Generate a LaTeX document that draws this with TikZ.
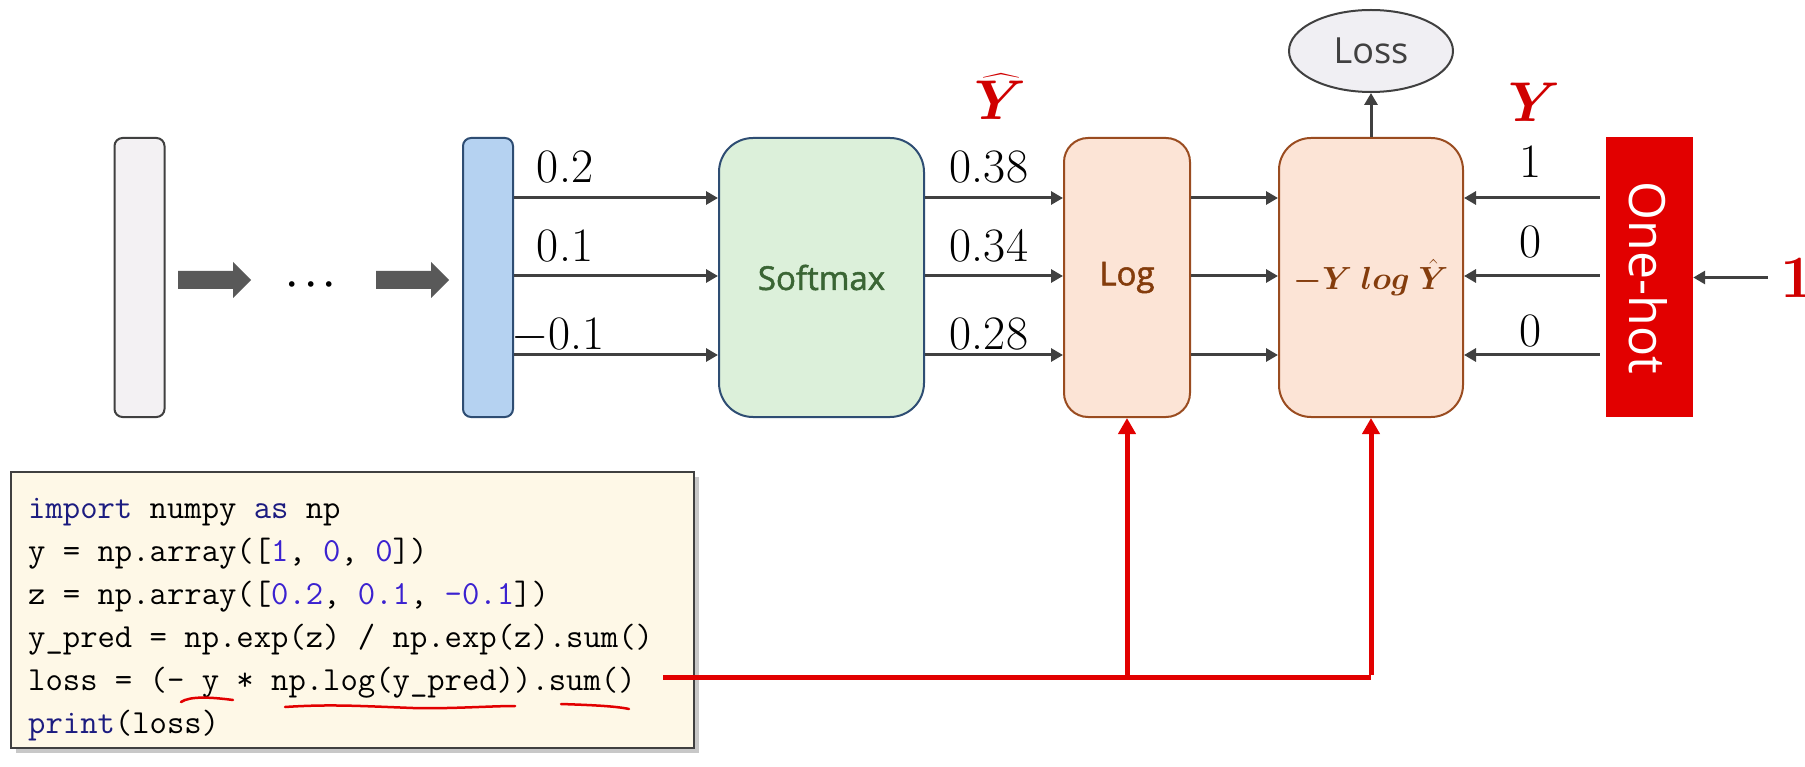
\RequirePackage{fix-cm}
\documentclass[tikz,border=0pt]{standalone}
\usepackage{exscale}
\usepackage{fontspec}
\usepackage{bm}
\usetikzlibrary{shapes.geometric,arrows.meta,shadows}
\newfontfamily\uifont{Open Sans}
\newfontfamily\uifontb{Open Sans}[FakeBold=1.5]
\definecolor{cgray}{HTML}{404040}
\definecolor{fatgray}{HTML}{595959}
\definecolor{barfill}{HTML}{F3F1F3}
\definecolor{bluefill}{HTML}{B5D2F1}
\definecolor{blueline}{HTML}{2E4D73}
\definecolor{softfill}{HTML}{DCF0DA}
\definecolor{softtext}{HTML}{3A6534}
\definecolor{peach}{HTML}{FCE4D6}
\definecolor{brownline}{HTML}{9A4C20}
\definecolor{browntext}{HTML}{843C0C}
\definecolor{lossfill}{HTML}{F0EFF3}
\definecolor{hotred}{HTML}{E20000}
\definecolor{redlbl}{HTML}{D00000}
\definecolor{codefill}{HTML}{FEF8E7}
\definecolor{kwcol}{HTML}{1C1C80}
\definecolor{numcol}{HTML}{3B22D0}
\newcommand\codekw[1]{\textcolor{kwcol}{#1}}
\newcommand\codenum[1]{\textcolor{numcol}{#1}}
\begin{document}
\begin{tikzpicture}[x=1pt,y=-1pt,
  bar/.style={minimum width=50pt, minimum height=279pt, inner sep=0pt, rounded corners=8pt, line width=2pt},
  procbox/.style={minimum height=279pt, inner sep=0pt, line width=2pt},
  conn/.style={draw=cgray, line width=3pt, -{Triangle[width=13pt,length=12pt]}},
  fatarrow/.style={fill=fatgray},
  num/.style={anchor=base, inner sep=0pt, font=\fontsize{48}{48}\selectfont},
  redvar/.style={anchor=base, inner sep=0pt, text=redlbl, font=\fontsize{56}{56}\selectfont},
  codeln/.style={anchor=base west, inner sep=0pt, font=\fontsize{33.7}{40}\ttfamily},
  redline/.style={draw=hotred, line width=5pt},
  redarrow/.style={redline, -{Triangle[width=17pt,length=16pt]}},
  squig/.style={draw=hotred, line width=2.5pt, line cap=round}
]
\useasboundingbox (0,0) rectangle (1805,767);
\fill[white] (0,0) rectangle (1805,767);

% rows
\coordinate (r1) at (0,198);
\coordinate (r2) at (0,276);
\coordinate (r3) at (0,355);

% left bars
\node[bar, draw=cgray, fill=barfill] (gbar) at (139.5,277.5) {};
\node[bar, draw=blueline, fill=bluefill] (bbar) at (488,277.5) {};

% fat arrows and dots
\fill[fatarrow] (178,271) -- (233,271) -- (233,262) -- (251,280) -- (233,298) -- (233,289) -- (178,289) -- cycle;
\fill[fatarrow] (376,271) -- (431,271) -- (431,262) -- (449,280) -- (431,298) -- (431,289) -- (376,289) -- cycle;
\node[anchor=base, inner sep=0pt, font=\fontsize{36}{36}\selectfont] (ellip) at (311,294) {$\bm{\cdots}$};

% processing boxes
\node[procbox, minimum width=205pt, rounded corners=34pt, draw=blueline, fill=softfill,
      text=softtext, font=\uifontb\fontsize{33}{33}\selectfont] (soft) at (821.5,277.5) {Softmax};
\node[procbox, minimum width=126pt, rounded corners=24pt, draw=brownline, fill=peach,
      text=browntext, font=\uifontb\fontsize{33}{33}\selectfont] (logb) at (1127,277.5) {Log};
\node[procbox, minimum width=184pt, rounded corners=32pt, draw=brownline, fill=peach,
      text=browntext, font=\fontsize{32}{32}\selectfont] (ylog) at (1371,277.5) {$\bm{-Y\;log\;\hat{Y}}$};
\node[ellipse, minimum width=164pt, minimum height=82pt, inner sep=0pt, line width=2pt,
      draw=cgray, fill=lossfill, text=cgray, font=\uifont\fontsize{36}{36}\selectfont] (loss) at (1371,51) {Loss};
\node[minimum width=87pt, minimum height=280pt, inner sep=0pt, fill=hotred] (onehot) at (1649.5,277) {};
\node[rotate=-90, inner sep=0pt, text=white, font=\uifont\fontsize{50}{50}\selectfont] (hotlbl) at (1648,278) {One-hot};

% connectors
\foreach \r in {r1,r2,r3} {
  \draw[conn] (bbar.east |- \r) -- (soft.west |- \r);
  \draw[conn] (soft.east |- \r) -- (logb.west |- \r);
  \draw[conn] (logb.east |- \r) -- (ylog.west |- \r);
  \draw[conn, shorten <=6pt] (onehot.west |- \r) -- (ylog.east |- \r);
}
\draw[conn] (ylog.north) -- (loss.south);

% input label
\node[inner sep=0pt, text=redlbl, font=\bfseries\fontsize{60}{60}\selectfont] (inone) at (1797,277.5) {1};
\draw[conn, shorten <=12pt] (inone.west) -- (onehot.east |- inone.west);

% values
\node[num] (z1) at (565,183) {0.2};
\node[num] (z2) at (565,262) {0.1};
\node[num] (z3) at (558,350) {$-$0.1};
\node[num] (p1) at (989,183) {0.38};
\node[num] (p2) at (989,262) {0.34};
\node[num] (p3) at (989,350) {0.28};
\node[num] (t1) at (1530,178) {1};
\node[num] (t2) at (1530,258) {0};
\node[num] (t3) at (1530,347) {0};
\node[redvar] (yhat) at (1001,120) {$\bm{\widehat{Y}}$};
\node[redvar] (ytrue) at (1535,122) {$\bm{Y}$};

% code box
\node[minimum width=683pt, minimum height=276pt, inner sep=0pt, line width=2pt, draw=cgray, fill=codefill,
      drop shadow={shadow xshift=5pt, shadow yshift=-5pt, opacity=.3, fill=black!70}] (code) at (352.5,610) {};
\node[codeln] (c1) at (28,518) {\codekw{import} numpy \codekw{as} np};
\node[codeln] (c2) at (28,561) {y = np.array([\codenum{1}, \codenum{0}, \codenum{0}])};
\node[codeln] (c3) at (28,604) {z = np.array([\codenum{0.2}, \codenum{0.1}, \codenum{-0.1}])};
\node[codeln] (c4) at (28,647) {y\_pred = np.exp(z) / np.exp(z).sum()};
\node[codeln] (c5) at (28,690) {loss = (- y * np.log(y\_pred)).sum()};
\node[codeln] (c6) at (28,733) {\codekw{print}(loss)};

% hand-drawn underlines
\draw[squig] (181,702) .. controls (190,696) and (210,697) .. (233,700);
\draw[squig] (285,707) .. controls (330,704) and (360,706) .. (413,708) .. controls (450,709) and (490,706) .. (515,706);
\draw[squig] (561,704) .. controls (590,705) and (615,706) .. (629,709);

% red feedback lines
\coordinate (rs) at (663,677);
\draw[redline] (rs) -- (rs -| ylog.south);
\draw[redarrow] ([yshift=2.5pt]rs -| ylog.south) -- (ylog.south);
\draw[redarrow] (rs -| logb.south) -- (logb.south);
\end{tikzpicture}
\end{document}
